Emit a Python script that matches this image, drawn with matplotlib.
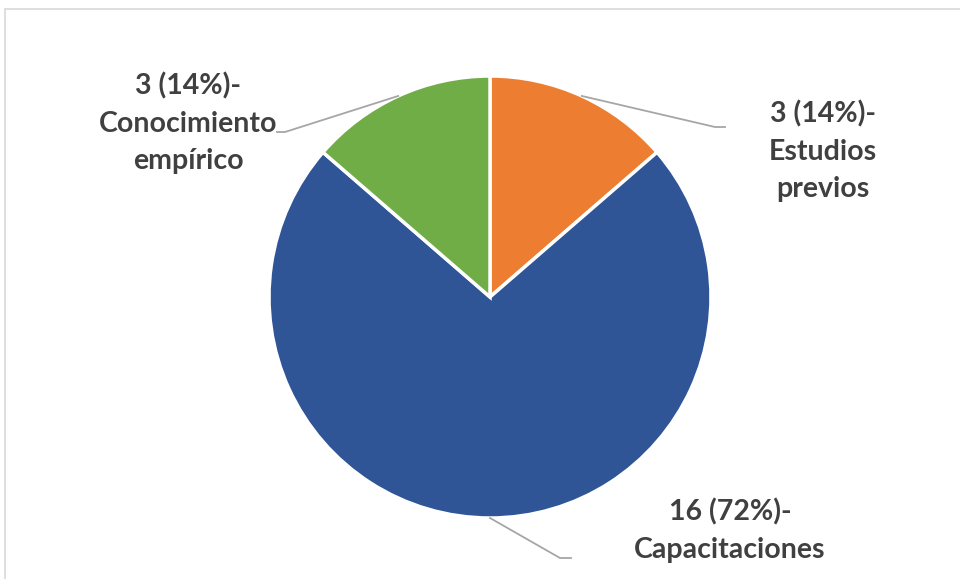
import matplotlib.pyplot as plt
import numpy as np
from matplotlib.patches import Rectangle

categories = ["Estudios previos", "Capacitaciones", "Conocimiento empírico"]
counts = [3, 16, 3]
pct_labels = ["14%", "72%", "14%"]
label_texts = ["3 (14%)-\nEstudios\nprevios",
               "16 (72%)-\nCapacitaciones",
               "3 (14%)-\nConocimiento\nempírico"]
colors = ["#ED7D31", "#2F5597", "#70AD47"]

W, H = 960, 579
fig = plt.figure(figsize=(W / 100, H / 100), dpi=100)
ax = fig.add_axes([0, 0, 1, 1])

# thin chart border (only top/left visible in the crop)
ax.add_patch(Rectangle((4.5, -10), W + 20, H - 8.5 + 10, fill=False,
                       edgecolor="#d9d9d9", linewidth=1.2))

cx, cy, r = 490, H - 297, 221
wedges, _ = ax.pie(counts, colors=colors, startangle=90, counterclock=False,
                   center=(cx, cy), radius=r, frame=True,
                   wedgeprops=dict(edgecolor="white", linewidth=2.5))
ax.set_xlim(0, W)
ax.set_ylim(0, H)
ax.set_aspect("equal")
ax.axis("off")

# label layout: text centre, leader elbow, leader end (pixel coords, y down)
label_pos = [(823, 151), (730, 531), (188, 123)]
elbows = [((715, 127), (725, 127)), ((560, 558), (571, 558)), ((285, 132), (277, 132))]

for w, txt, (tx, ty), (e1, e2) in zip(wedges, label_texts, label_pos, elbows):
    mid = np.deg2rad((w.theta1 + w.theta2) / 2)
    sx, sy = cx + r * np.cos(mid), cy + r * np.sin(mid)
    ax.plot([sx, e1[0], e2[0]], [sy, H - e1[1], H - e2[1]],
            color="#a6a6a6", linewidth=1.3, zorder=1)
    ax.text(tx, H - ty, txt, ha="center", va="center", fontsize=20.5,
            fontweight="bold", family=["Lato", "DejaVu Sans"], color="#404040",
            linespacing=1.55)

fig.savefig("out.png", dpi=100)
